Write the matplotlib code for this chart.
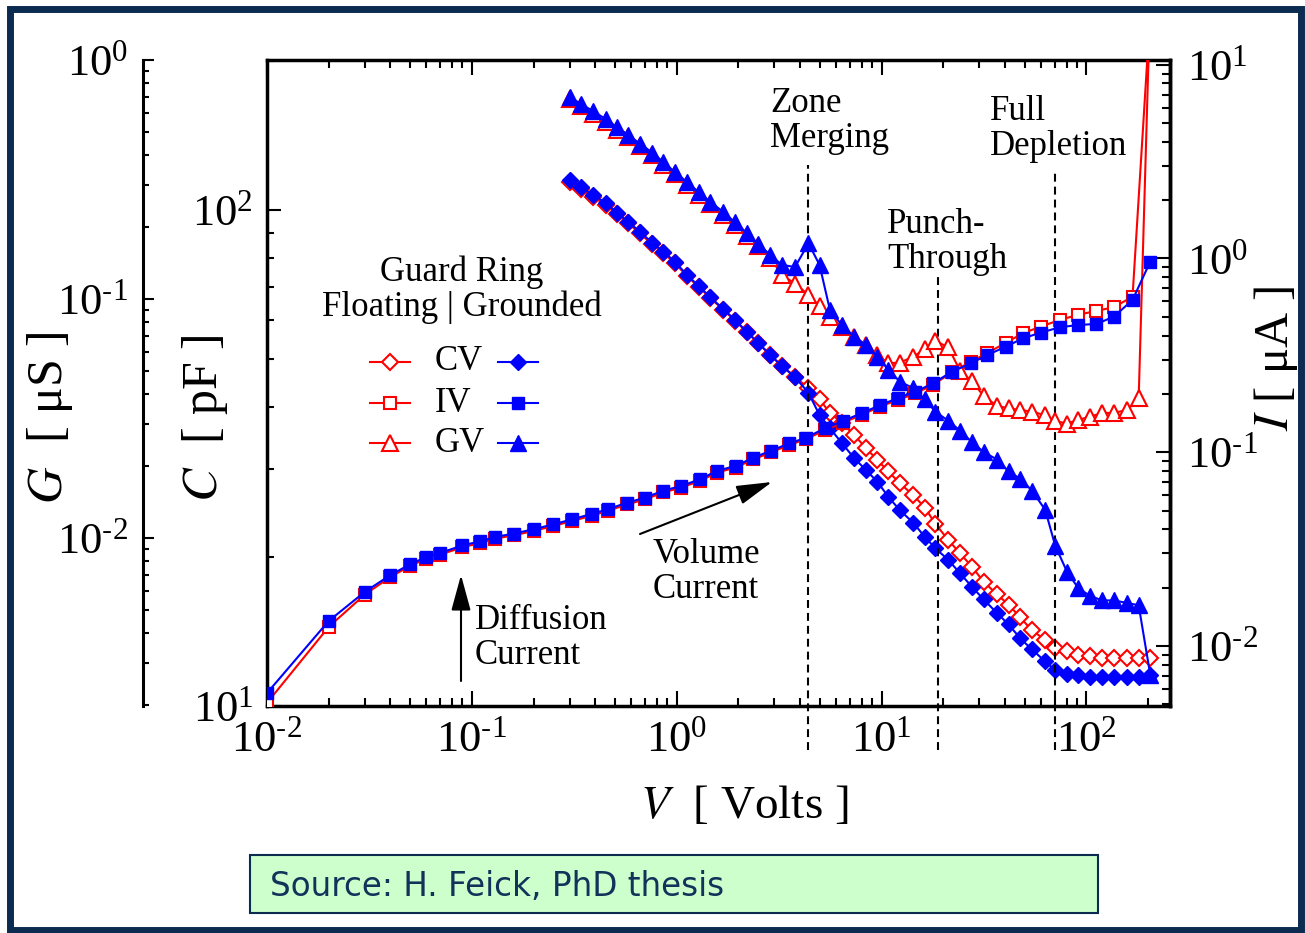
import numpy as np
import matplotlib
matplotlib.use('Agg')
import matplotlib.pyplot as plt
from matplotlib.ticker import LogLocator, NullFormatter, FuncFormatter
from matplotlib.patches import Rectangle
from matplotlib.lines import Line2D

plt.rcParams['font.family'] = 'serif'
plt.rcParams['font.serif'] = ['Liberation Serif', 'DejaVu Serif']
plt.rcParams['mathtext.fontset'] = 'stix'
plt.rcParams['axes.unicode_minus'] = False

# ---- data ----
# IV sweep (guard ring floating / grounded), I in uA
V_iv = [0.01, 0.02, 0.03, 0.04, 0.05, 0.06, 0.07, 0.09, 0.11, 0.13, 0.16, 0.20,
        0.25, 0.31, 0.385, 0.46, 0.57, 0.70, 0.86, 1.05, 1.3, 1.57, 1.94, 2.37,
        2.9, 3.55, 4.3, 5.3, 6.5, 8.0, 9.85, 12, 14.6, 17.9, 22, 27.3, 32.7,
        40.4, 49, 60, 74, 90.6, 112, 136, 168, 205]
I_float = [0.00508, 0.01253, 0.0184, 0.0227, 0.0259, 0.0282, 0.0296, 0.0323,
           0.0340, 0.0358, 0.0372, 0.0392, 0.0416, 0.0442, 0.0470, 0.0497,
           0.0537, 0.0570, 0.0620, 0.0656, 0.0711, 0.0784, 0.0833, 0.0918,
           0.100, 0.109, 0.117, 0.130, 0.142, 0.156, 0.172, 0.186, 0.201,
           0.223, 0.258, 0.293, 0.324, 0.367, 0.411, 0.445, 0.481, 0.511,
           0.536, 0.560, 0.634, 18.7]
I_ground = [0.00571, 0.01345, 0.0190, 0.0232, 0.0264, 0.0288, 0.0302, 0.0330,
            0.0347, 0.0365, 0.0380, 0.0400, 0.0424, 0.0451, 0.0480, 0.0507,
            0.0548, 0.0582, 0.0633, 0.0669, 0.0725, 0.0800, 0.0850, 0.0937,
            0.102, 0.111, 0.119, 0.133, 0.145, 0.159, 0.175, 0.190, 0.205,
            0.227, 0.260, 0.287, 0.317, 0.350, 0.387, 0.414, 0.441, 0.453,
            0.459, 0.500, 0.610, 0.962]

# CV / GV sweep, C in pF, G in uS
V_cg = [0.30, 0.34, 0.39, 0.45, 0.51, 0.58, 0.66, 0.76, 0.86, 0.98, 1.12, 1.28,
        1.46, 1.69, 1.93, 2.2, 2.5, 2.86, 3.26, 3.78, 4.4, 4.98, 5.6, 6.4, 7.35,
        8.4, 9.55, 10.8, 12.3, 14.3, 16.3, 18.3, 21.2, 24.2, 27.6, 31.5, 36.6,
        41.7, 47.5, 54.2, 63, 70.4, 80.4, 91.5, 104, 119, 136, 158, 180, 205]
C_float = [114, 110, 106.2, 102.5, 98.0, 94.0, 89.7, 85.3, 81.8, 78.2, 73.6,
           70.0, 66.4, 62.9, 59.8, 56.7, 53.9, 51.0, 48.5, 46.1, 43.7, 41.5,
           39.0, 37.2, 35.2, 33.1, 31.3, 29.7, 28.1, 26.6, 25.1, 23.3, 21.6,
           20.3, 19.1, 17.8, 16.8, 16.0, 15.1, 14.2, 13.6, 13.1, 12.9, 12.7,
           12.6, 12.5, 12.5, 12.5, 12.5, 12.5]
C_ground = [115, 111.1, 107.2, 103.4, 98.8, 94.7, 90.4, 85.9, 82.4, 78.7, 74.0,
            70.3, 66.7, 63.1, 60.0, 56.8, 54.0, 51.0, 48.5, 46.0, 42.8, 38.6,
            36.3, 33.9, 31.6, 29.9, 28.3, 26.4, 24.8, 23.4, 21.9, 20.8, 19.7,
            18.5, 17.4, 16.4, 15.4, 14.6, 13.7, 13.0, 12.3, 11.8, 11.6, 11.55,
            11.46, 11.46, 11.46, 11.46, 11.46, 11.55]
G_float = [0.684, 0.639, 0.597, 0.552, 0.511, 0.474, 0.436, 0.400, 0.365, 0.332,
           0.301, 0.273, 0.249, 0.225, 0.204, 0.184, 0.166, 0.149, 0.126, 0.116,
           0.104, 0.0935, 0.0843, 0.0766, 0.0695, 0.0642, 0.0583, 0.0538,
           0.0542, 0.0574, 0.0618, 0.0668, 0.0627, 0.050, 0.0454, 0.0393,
           0.0357, 0.0349, 0.0343, 0.0338, 0.0326, 0.0309, 0.0301, 0.0312,
           0.0322, 0.0333, 0.0334, 0.0343, 0.0384, 1.8]
G_ground = [0.702, 0.655, 0.612, 0.566, 0.524, 0.486, 0.447, 0.410, 0.374, 0.340,
            0.309, 0.280, 0.255, 0.231, 0.209, 0.189, 0.170, 0.153, 0.139, 0.136,
            0.171, 0.139, 0.0899, 0.0778, 0.0695, 0.0642, 0.0574, 0.0505,
            0.0451, 0.0423, 0.0380, 0.0338, 0.0309, 0.0281, 0.0252, 0.0229,
            0.0213, 0.0190, 0.0177, 0.0158, 0.0131, 0.0093, 0.00723, 0.00615,
            0.00574, 0.00548, 0.00548, 0.00535, 0.00523, 0.00268]

# voltages of the marked transitions
V_marks = [4.38, 18.9, 70.4]
mark_tops = [0.8375, 0.670, 0.8266]

# ---- figure geometry in reference pixels ----
W, H = 1305, 933
navy = '#0c2b50'


def fx(px):
    return px / W


def fy(py):
    return 1 - py / H


def pow10(val, pos):
    # short hyphen in the exponent like the original slide
    e = int(round(np.log10(val)))
    if e < 0:
        return r'$\mathdefault{10^{\text{-}%d}}$' % (-e)
    return r'$\mathdefault{10^{%d}}$' % e


fig = plt.figure(figsize=(13.05, 9.33), dpi=100)
ax = fig.add_axes([fx(267), fy(706), fx(1170) - fx(267), fy(60) - fy(706)])
ax_g = ax.twinx()
ax_i = ax.twinx()

for a in (ax, ax_g, ax_i):
    a.set_xscale('log')
    a.set_yscale('log')
ax.set_xlim(0.01, 256)
ax.set_ylim(10, 200.6)
ax_g.set_ylim(10 ** -2.703, 1)
ax_i.set_ylim(10 ** -2.31, 10 ** 1.024)

red = dict(color='red', lw=1.5, mfc='white', mec='red', mew=1.5)
blue = dict(color='blue', lw=1.5, mfc='blue', mec='blue', mew=1)
ms_d, ms_s, ms_t = 8.5, 8.5, 11

ax.plot(V_cg, C_float, marker='D', ms=ms_d, **red)
ax.plot(V_cg, C_ground, marker='D', ms=ms_d, **blue)
ax_g.plot(V_cg, G_float, marker='^', ms=ms_t, **red)
ax_g.plot(V_cg, G_ground, marker='^', ms=ms_t, **blue)
ax_i.plot(V_iv, I_float, marker='s', ms=ms_s, **red)
ax_i.plot(V_iv, I_ground, marker='s', ms=ms_s, **blue)

# dashed transition lines, running below the axis
for v, top in zip(V_marks, mark_tops):
    ax.axvline(v, ymin=-0.068, ymax=top, color='black', lw=1.5,
               ls=(0, (3.8, 2.4)), clip_on=False)

# ---- axes styling ----
for a in (ax, ax_g, ax_i):
    a.yaxis.set_major_locator(LogLocator(base=10, numticks=10))
    a.yaxis.set_minor_locator(LogLocator(base=10, subs=np.arange(2, 10), numticks=20))
    a.yaxis.set_major_formatter(FuncFormatter(pow10))
    a.yaxis.set_minor_formatter(NullFormatter())
ax.xaxis.set_major_locator(LogLocator(base=10, numticks=10))
ax.xaxis.set_minor_locator(LogLocator(base=10, subs=np.arange(2, 10), numticks=20))
ax.xaxis.set_major_formatter(FuncFormatter(pow10))
ax.xaxis.set_minor_formatter(NullFormatter())

for s in ax.spines.values():
    s.set_linewidth(2.5)
ax.tick_params(axis='x', which='major', direction='in', top=True, bottom=True,
               length=11, width=1.5, labelsize=32, pad=10)
ax.tick_params(axis='x', which='minor', direction='in', top=True, bottom=True,
               length=6, width=1.5)
ax.tick_params(axis='y', which='major', direction='in', left=True, right=False,
               length=10, width=1.5, labelsize=32, pad=10)
ax.tick_params(axis='y', which='minor', direction='in', left=True, right=False,
               length=5, width=1.5)

for side in ('right', 'top', 'bottom'):
    ax_g.spines[side].set_visible(False)
ax_g.spines['left'].set_visible(True)
ax_g.spines['left'].set_position(('outward', 89.3))
ax_g.spines['left'].set_linewidth(2.2)
ax_g.yaxis.set_ticks_position('left')
ax_g.tick_params(axis='y', which='major', direction='in', left=True, right=False,
                 labelleft=True, labelright=False, length=8, width=1.5,
                 labelsize=32, pad=11)
ax_g.tick_params(axis='y', which='minor', direction='in', left=True, right=False,
                 length=4, width=1.5)

for side in ('left', 'top', 'bottom'):
    ax_i.spines[side].set_visible(False)
ax_i.spines['right'].set_linewidth(2.5)
ax_i.tick_params(axis='y', which='major', direction='in', left=False, right=True,
                 length=10, width=1.5, labelsize=32, pad=12)
ax_i.tick_params(axis='y', which='minor', direction='in', left=False, right=True,
                 length=6, width=1.5)

# axis titles
fig.text(fx(50), fy(418), '$G$  [ μS ]', rotation=90, ha='center', va='center', fontsize=36)
fig.text(fx(205), fy(418), '$C$  [ pF ]', rotation=90, ha='center', va='center', fontsize=36)
fig.text(fx(1276), fy(358), '$I$ [ μA ]', rotation=90, ha='center', va='center', fontsize=35)
fig.text(fx(744), fy(806), '$V$  [ Volts ]', ha='center', va='center', fontsize=34)

# annotations
fs = 25
fig.text(fx(770), fy(121), 'Zone\nMerging', ha='left', va='center', fontsize=fs, linespacing=1.05)
fig.text(fx(887), fy(242), 'Punch-\nThrough', ha='left', va='center', fontsize=fs, linespacing=1.05)
fig.text(fx(990), fy(129), 'Full\nDepletion', ha='left', va='center', fontsize=fs, linespacing=1.05)
fig.text(fx(475), fy(638), 'Diffusion\nCurrent', ha='left', va='center', fontsize=fs, linespacing=1.05)
fig.text(fx(653), fy(572), 'Volume\nCurrent', ha='left', va='center', fontsize=fs, linespacing=1.05)

arrow = dict(arrowstyle='-|>,head_length=1.1,head_width=0.3', color='black',
             lw=1.5, shrinkA=0, shrinkB=0, mutation_scale=20)
fig.add_artist(plt.Annotation('', xy=(fx(461), fy(575)), xytext=(fx(461), fy(681)),
                              xycoords='figure fraction', arrowprops=arrow))
fig.add_artist(plt.Annotation('', xy=(fx(772), fy(482)), xytext=(fx(640), fy(534)),
                              xycoords='figure fraction', arrowprops=arrow))

# hand-placed legend
fig.text(fx(462), fy(272), 'Guard Ring', ha='center', va='center', fontsize=fs)
fig.text(fx(462), fy(307), 'Floating | Grounded', ha='center', va='center', fontsize=fs)
leg_rows = [('CV', 'D', ms_d, 362), ('IV', 's', ms_s, 403), ('GV', '^', ms_t, 443)]
for name, m, ms, y in leg_rows:
    fig.add_artist(Line2D([fx(370), fx(390), fx(410)], [fy(y)] * 3, marker=m, ms=ms,
                          markevery=[1], transform=fig.transFigure, **red))
    fig.add_artist(Line2D([fx(498), fx(518), fx(538)], [fy(y)] * 3, marker=m, ms=ms,
                          markevery=[1], transform=fig.transFigure, **blue))
    fig.text(fx(435), fy(y), name, ha='left', va='center', fontsize=fs)

# source box and slide frame
fig.add_artist(Rectangle((fx(250), fy(913)), fx(1098) - fx(250), (913 - 855) / H,
                         transform=fig.transFigure, facecolor='#ccffcc',
                         edgecolor=navy, lw=1.5))
fig.text(fx(270), fy(886), 'Source: H. Feick, PhD thesis', family='DejaVu Sans',
         fontsize=23.5, color='#13325a', ha='left', va='center')
fig.add_artist(Rectangle((fx(10), fy(930)), fx(1301) - fx(10), (930 - 9) / H,
                         transform=fig.transFigure, fill=False, edgecolor=navy, lw=5))

fig.savefig('out.png', dpi=100)
